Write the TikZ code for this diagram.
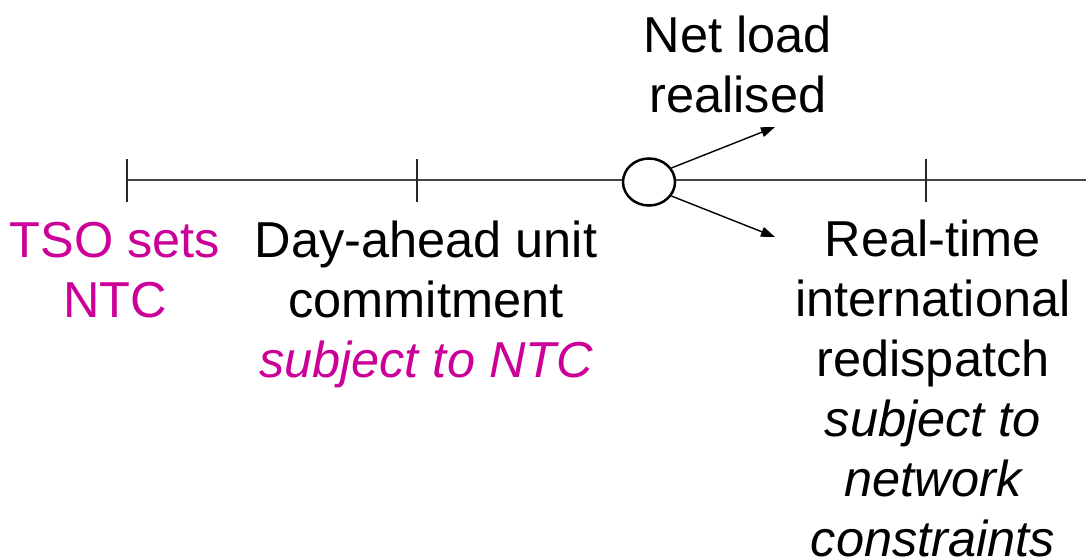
\documentclass[tikz,border=0pt]{standalone}
\usepackage{fontspec}
\setmainfont{Liberation Sans}
\usetikzlibrary{arrows.meta,shapes.geometric}
\definecolor{ntcmag}{RGB}{204,0,153}
\definecolor{axisgray}{RGB}{70,70,70}
\tikzset{
  lbl/.style={align=center,inner sep=0pt,font=\fontsize{50.5}{60}\selectfont,anchor=base},
  tick/.style={draw=black!85,line width=1.8pt},
  axis/.style={draw=axisgray,line width=2pt},
  arr/.style={draw=black,line width=1.4pt,-{Triangle[length=14pt,width=10pt]}},
}
\begin{document}
\begin{tikzpicture}[x=1pt,y=-1pt]
\useasboundingbox (0,0) rectangle (1086,559);
% timeline
\coordinate (t0) at (127,180);
\coordinate (t1) at (417,180);
\coordinate (t3) at (926,180);
\coordinate (tend) at (1086,180);
\draw[axis] (t0) -- (tend);
\foreach \c in {t0,t1,t3}{
  \draw[tick] ([yshift=-22pt]\c) -- ([yshift=21pt]\c);
}
\node[ellipse,draw=black,line width=2.5pt,fill=white,minimum width=52pt,minimum height=47pt,inner sep=0pt] (circ) at (649,182) {};
\coordinate (up) at (775,127);
\coordinate (dn) at (775,237);
\draw[arr] (circ.32) -- (up);
\draw[arr] (circ.-32) -- (dn);
% labels (anchor = baseline of last line)
\node[lbl] (net) at (738,113) {Net load\\realised};
\node[lbl,text=ntcmag] (tso) at (115,317) {TSO sets\\NTC};
\node[lbl] (da) at (426,377) {Day-ahead unit\\commitment\\\textcolor{ntcmag}{\itshape subject to NTC}};
\node[lbl] (rt) at (933,556) {Real-time\\international\\redispatch\\\itshape subject to\\\itshape network\\\itshape constraints};
\end{tikzpicture}
\end{document}
